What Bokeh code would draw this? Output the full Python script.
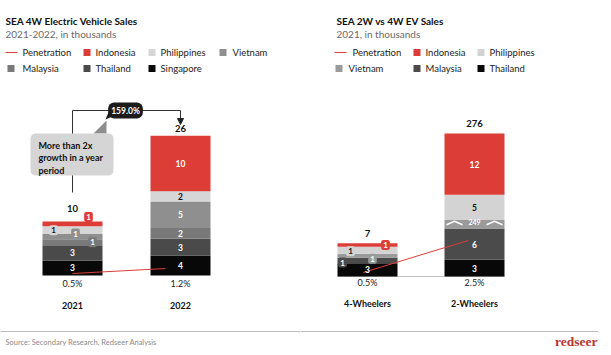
from bokeh.plotting import figure
from bokeh.models import Range1d, Label, BoxAnnotation, Arrow, NormalHead
from bokeh.layouts import row
from bokeh.embed import file_html
from bokeh.resources import INLINE
from bokeh.core.properties import value

FONT = "Lato"

# ---------------- data: left chart ----------------
L_TITLE = "SEA 4W Electric Vehicle Sales"
L_SUBTITLE = "2021-2022, in thousands"
L_CATEGORIES = ["2021", "2022"]
L_SINGAPORE = [2.8, 3.7]
L_THAILAND = [2.8, 3.1]
L_MALAYSIA = [1.1, 2.0]
L_VIETNAM = [1.0, 4.9]
L_PHILIPPINES = [1.4, 1.9]
L_INDONESIA = [0.9, 10.3]
L_PENETRATION = [0.5, 1.2]
L_CALLOUT = "More than 2x\ngrowth in a year\nperiod"
L_LEGEND = ["Penetration", "Indonesia", "Philippines", "Vietnam", "Malaysia", "Thailand", "Singapore"]

# ---------------- data: right chart ----------------
R_TITLE = "SEA 2W vs 4W EV Sales"
R_SUBTITLE = "2021, in thousands"
R_CATEGORIES = ["4-Wheelers", "2-Wheelers"]
R_THAILAND = [2.6, 3.3]
R_MALAYSIA = [1.1, 6.2]
R_VIETNAM = [0.8, 249.4]
R_PHILIPPINES = [1.4, 5.0]
R_INDONESIA = [0.7, 12.1]
R_PENETRATION = [0.5, 2.5]
R_LEGEND = ["Penetration", "Indonesia", "Philippines", "Vietnam", "Malaysia", "Thailand"]

SOURCE = "Source: Secondary Research, Redseer Analysis"
BRAND = "redseer"

# stacking order bottom -> top
L_SERIES = [("Singapore", L_SINGAPORE), ("Thailand", L_THAILAND), ("Malaysia", L_MALAYSIA),
            ("Vietnam", L_VIETNAM), ("Philippines", L_PHILIPPINES), ("Indonesia", L_INDONESIA)]
R_SERIES = [("Thailand", R_THAILAND), ("Malaysia", R_MALAYSIA), ("Vietnam", R_VIETNAM),
            ("Philippines", R_PHILIPPINES), ("Indonesia", R_INDONESIA)]

# ---------------- styles ----------------
RED = "#dc3d37"
L_COLORS = {"Indonesia": RED, "Philippines": "#d6d6d6", "Vietnam": "#8f8f8f",
            "Malaysia": "#797979", "Thailand": "#4a4a4a", "Singapore": "#080808"}
R_COLORS = {"Indonesia": RED, "Philippines": "#d3d3d3", "Vietnam": "#9a9a9a",
            "Malaysia": "#4b4b4b", "Thailand": "#080808"}
BAR_PX = 60
BREAK_CAP = 1.7  # drawn height of the broken (axis-break) segment

# label layout: (dx px, dy px (down +), boxed, text colour, size)
W, K = "white", "#111111"
L_LABEL_SPEC = {
    "Singapore": [(0, 0, False, W, "8.5px"), (0, 0, False, W, "8.5px")],
    "Thailand": [(0, 0, False, W, "8.5px"), (0, 0, False, W, "8.5px")],
    "Malaysia": [(20, 0, True, W, "8px"), (0, 0, False, W, "8.5px")],
    "Vietnam": [(3, -3, True, W, "8px"), (0, 0, False, W, "8.5px")],
    "Philippines": [(-19, 0, True, K, "8px"), (0, 0, False, K, "8.5px")],
    "Indonesia": [(16, -7, True, W, "8px"), (0, 0, False, W, "8.5px")],
}
R_LABEL_SPEC = {
    "Thailand": [(0, 0, False, W, "8.5px"), (0, 0, False, W, "8.5px")],
    "Malaysia": [(-25, 2, True, W, "8px"), (0, 0, False, W, "8.5px")],
    "Vietnam": [(5, 3, True, W, "8px"), (0, -2, False, W, "7px")],
    "Philippines": [(-17, 1, True, K, "8px"), (0, 0, False, K, "8.5px")],
    "Indonesia": [(18, 0, True, W, "8px"), (0, 0, False, W, "8.5px")],
}


class Map:
    def __init__(self, x0, xs, base, ys):
        self.x0, self.xs, self.base, self.ys = x0, xs, base, ys

    def x(self, px):
        return (px - self.x0) / self.xs

    def y(self, py):
        return (self.base - py) / self.ys


def make_fig(w, m, pen_zero, pen_scale):
    p = figure(width=w, height=355, x_range=Range1d(m.x(0), m.x(w)),
               y_range=Range1d(m.y(355), m.y(0)), output_backend="svg",
               toolbar_location=None, min_border=0,
               x_axis_location=None, y_axis_location=None)
    p.grid.visible = False
    p.outline_line_color = None
    p.background_fill_color = "white"
    p.border_fill_color = "white"
    p.extra_y_ranges = {"pen": Range1d((pen_zero - 355) / pen_scale, pen_zero / pen_scale)}
    return p


def txt(p, x, y, s, size="9px", color="#1a1a1a", bold=False, align="left", font=FONT):
    p.text(x=[x], y=[y], text=[s], text_font=value(font), text_font_size=value(size),
           text_color=color, text_font_style="bold" if bold else "normal",
           text_align=align, text_baseline="middle")


def draw_stack(p, m, series, colors, cap=None, broken=None):
    n = len(series[0][1])
    bottoms = [0.0] * n
    info = {}
    for name, vals in series:
        disp = [min(v, cap) if (cap is not None and name == broken) else v for v in vals]
        tops = [b + d for b, d in zip(bottoms, disp)]
        p.vbar(x=list(range(n)), bottom=bottoms, top=tops, width=BAR_PX / m.xs,
               fill_color=colors[name], line_color=None)
        info[name] = (list(bottoms), tops, vals)
        bottoms = tops
    return info, bottoms


def draw_labels(p, m, info, colors, spec):
    for name, (bots, tops, vals) in info.items():
        for i, (b, t, v) in enumerate(zip(bots, tops, vals)):
            dx, dy, boxed, tc, size = spec[name][i]
            xx = i + dx / m.xs
            yy = (b + t) / 2 - dy / m.ys
            s = str(round(v))
            if boxed:
                p.add_layout(Label(x=xx, y=yy, text=s, text_font=FONT, text_font_size=size,
                                   text_font_style="bold", text_color=tc, text_align="center",
                                   text_baseline="middle", background_fill_color=colors[name],
                                   padding=2, border_radius=2))
            else:
                txt(p, xx, yy, s, size=size, color=tc, bold=True, align="center")


def draw_legend(p, m, names, colors, pos):
    for name, (kind, sx, tx, py) in zip(names, pos):
        if kind == "line":
            p.segment(x0=[m.x(sx)], y0=[m.y(py)], x1=[m.x(sx + 12)], y1=[m.y(py)],
                      line_color=RED, line_width=1.2)
        else:
            p.scatter(x=[m.x(sx + 3.5)], y=[m.y(py)], marker="square", size=7,
                      fill_color=colors[name], line_color=None)
        txt(p, m.x(tx), m.y(py), name, size="9.5px", color="#222222")


# ================= LEFT CHART =================
mL = Map(72, 108, 275, 5.4)
pL = make_fig(300, mL, 276.6, 7.14)

txt(pL, mL.x(5), mL.y(20), L_TITLE, size="10px", color="#111111", bold=True)
txt(pL, mL.x(5), mL.y(33), L_SUBTITLE, size="10px", color="#6a6a6a")
draw_legend(pL, mL, L_LEGEND, L_COLORS,
            [("line", 5, 22, 52), ("sq", 83, 95, 52), ("sq", 148, 160, 52), ("sq", 219, 232, 52),
             ("sq", 7, 22, 68), ("sq", 83, 95, 68), ("sq", 148, 160, 68)])

# growth bracket
pL.line(x=[0, 0, 1], y=[mL.y(192), mL.y(110), mL.y(110)], line_color="#333333", line_width=1)
pL.add_layout(Arrow(end=NormalHead(size=6, fill_color="#222222", line_color="#222222"),
                    x_start=1, y_start=mL.y(110), x_end=1, y_end=mL.y(124),
                    line_color="#333333", line_width=1))
pL.patch(x=[mL.x(93), mL.x(106), mL.x(106)], y=[mL.y(133), mL.y(133), mL.y(120)],
         fill_color="#8e8e8e", line_color=None)
pL.patch(x=[mL.x(108), mL.x(114), mL.x(105)], y=[mL.y(112), mL.y(115), mL.y(119)],
         fill_color="#1c1c1c", line_color=None)

infoL, topsL = draw_stack(pL, mL, L_SERIES, L_COLORS)

pL.add_layout(BoxAnnotation(left=mL.x(30), right=mL.x(113), top=mL.y(133), bottom=mL.y(175),
                            fill_color="#d5d5d5", fill_alpha=1, line_color=None, border_radius=5))
pL.add_layout(Label(x=mL.x(38), y=mL.y(139), text=L_CALLOUT, text_font=FONT,
                    text_font_size="9px", text_font_style="bold", text_color="#111111",
                    text_align="left", text_baseline="top", text_line_height=1.15))

totL = [sum(v[i] for _, v in L_SERIES) for i in range(len(L_CATEGORIES))]
growth = (totL[1] / totL[0] - 1) * 100
pL.add_layout(Label(x=mL.x(125), y=mL.y(110), text=f"{growth:.1f}%", text_font=FONT,
                    text_font_size="8.5px", text_font_style="bold", text_color="white",
                    text_align="center", text_baseline="middle",
                    background_fill_color="#1c1c1c", padding=3, border_radius=6))

# penetration line
pL.line(x=[0, 0.86], y=L_PENETRATION, y_range_name="pen", line_color=RED, line_width=1)

draw_labels(pL, mL, infoL, L_COLORS, L_LABEL_SPEC)

for i, (cat, t, pen) in enumerate(zip(L_CATEGORIES, totL, L_PENETRATION)):
    gap = [13, 7][i]
    txt(pL, i, topsL[i] + gap / mL.ys, str(round(t)), size="9.5px", color="#111111", bold=True, align="center")
    txt(pL, i, mL.y(283), f"{pen:.1f}%", size="9px", color="#222222", align="center")
    txt(pL, i, mL.y(305), cat, size="9px", color="#111111", bold=True, align="center")

pL.segment(x0=[mL.x(0)], y0=[mL.y(331)], x1=[mL.x(300)], y1=[mL.y(331)], line_color="#bdbdbd", line_width=1)
txt(pL, mL.x(5), mL.y(342), SOURCE, size="7.5px", color="#8a8a8a")

# ================= RIGHT CHART =================
mR = Map(67, 107, 276, 5.05)
pR = make_fig(311, mR, 280, 16)

txt(pR, mR.x(36), mR.y(20), R_TITLE, size="10px", color="#111111", bold=True)
txt(pR, mR.x(36), mR.y(33), R_SUBTITLE, size="10px", color="#6a6a6a")
draw_legend(pR, mR, R_LEGEND, R_COLORS,
            [("line", 34, 52, 52), ("sq", 113, 125, 52), ("sq", 177, 189, 52),
             ("sq", 35, 48, 68), ("sq", 113, 125, 68), ("sq", 177, 189, 68)])

pR.segment(x0=[-0.5 * BAR_PX / mR.xs], y0=[0], x1=[1 + 0.5 * BAR_PX / mR.xs], y1=[0],
           line_color="#c4c4c4", line_width=1)
infoR, topsR = draw_stack(pR, mR, R_SERIES, R_COLORS, cap=BREAK_CAP, broken="Vietnam")

# axis-break marks on the broken segment
vb, vt, _ = infoR["Vietnam"]
vmid = (vb[1] + vt[1]) / 2
for a, c in [(-28, -12), (12, 28)]:
    pR.line(x=[1 + a / mR.xs, 1 + (a + c) / 2 / mR.xs, 1 + c / mR.xs],
            y=[vmid - 0.5 / mR.ys, vmid + 3 / mR.ys, vmid - 0.5 / mR.ys],
            line_color="white", line_width=1.5)

pR.line(x=[-0.04, 0.94], y=R_PENETRATION, y_range_name="pen", line_color=RED, line_width=1)

draw_labels(pR, mR, infoR, R_COLORS, R_LABEL_SPEC)

totR = [sum(v[i] for _, v in R_SERIES) for i in range(len(R_CATEGORIES))]
for i, (cat, t, pen) in enumerate(zip(R_CATEGORIES, totR, R_PENETRATION)):
    txt(pR, i, topsR[i] + 10 / mR.ys, str(round(t)), size="9.5px", color="#111111", bold=True, align="center")
    txt(pR, i, mR.y(282), f"{pen:.1f}%", size="9px", color="#222222", align="center")
    txt(pR, i, mR.y(303), cat, size="9px", color="#111111", bold=True, align="center")

pR.segment(x0=[mR.x(0)], y0=[mR.y(331)], x1=[mR.x(298)], y1=[mR.y(331)], line_color="#bdbdbd", line_width=1)
txt(pR, mR.x(297), mR.y(341), BRAND, size="13.5px", color="#b8352f", bold=True, align="right",
    font="Liberation Serif")

layout = row(pL, pR, spacing=0)
open("out.html", "w").write(file_html(layout, INLINE))
